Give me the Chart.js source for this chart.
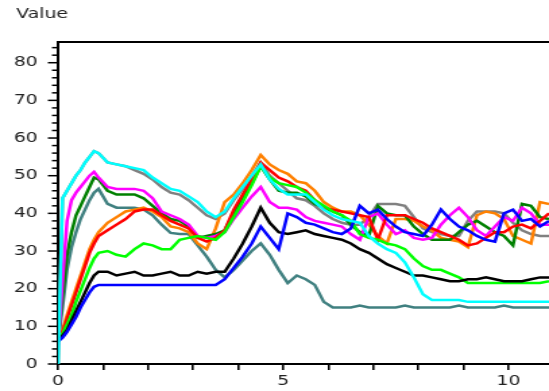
<!DOCTYPE html>
<html><head><meta charset="utf-8">
<script src="https://cdn.jsdelivr.net/npm/chart.js@4"></script>
<style>
html,body{margin:0;padding:0;background:#fff;overflow:hidden}
#wrap{position:absolute;left:0;top:0;width:407px;height:391px;transform:scaleX(1.3489);transform-origin:0 0;}
canvas{display:block}
</style></head><body>
<div id="wrap"><canvas id="c" width="407" height="391"></canvas></div>
<script>
const titleText = 'Value';
const xLabeled = [0, 5, 10];
const yLabeled = [0, 10, 20, 30, 40, 50, 60, 70, 80];
const xs = [0,0.1,0.2,0.3,0.4,0.5,0.6,0.7,0.8,0.9,1.1,1.3,1.5,1.7,1.9,2.1,2.3,2.5,2.7,2.9,3.1,3.3,3.5,3.7,3.9,4.1,4.3,4.5,4.7,4.9,5.1,5.3,5.5,5.7,5.9,6.1,6.3,6.5,6.7,6.9,7.1,7.3,7.5,7.7,7.9,8.1,8.3,8.5,8.7,8.9,9.1,9.3,9.5,9.7,9.9,10.1,10.3,10.5,10.7,10.9];

const blue = [6,7,8.5,10.5,12.5,15,17,19,20.5,21,
 21,21,21,21,21,21,21,21,21,21,
 21,21,21,22.5,25.5,28.5,32,36.5,33.5,30.5,
 40,39,37.5,37,36,35,34.5,36,42,40,
 41,38.5,36.5,35,34.5,34,37,41,38.5,36.5,
 35.5,34,33,32.5,40,41,38,38.5,36.5,38];
const black = [6,7.5,9,11.5,14,16.5,19,21.5,23.5,24.5,
 24.5,23.5,24,24.5,23.5,23.5,24,24.5,23.5,23.5,
 24.5,24,24.5,24.5,28,32,36.5,41.5,37.5,35,
 34.5,35,35.5,34.5,34,33.5,33,32,30.5,29.5,
 28,26.5,25.5,24.5,23.5,23.5,23,22.5,22,22,
 22.5,22.5,23,22.5,22,22,22,22.5,23,23];
const lime = [6,8,10.5,13,16.5,19.5,22.5,25.5,28,29.5,
 30,29,28.5,30.5,32,31.5,30.5,30.5,33,33.5,
 34,33.5,33,35,39,43,47.5,52.5,49.5,48,
 47.5,47,45.5,43.5,42,40.5,39.5,38,34.5,33.5,
 33,32,31.5,30.5,28,26,25,25,24,23,
 21.5,21.5,21.5,21.5,21.5,21.5,21.5,21.5,21.5,22];
const red = [6,8.5,12,15.5,19,22.5,26,29.5,32,34,
 35.5,37,38.5,40.5,41,41,39.5,38,37,36,
 33.5,32.5,33.5,35.5,41,45,49,53.5,51.5,49.5,
 48.5,47,46,43.5,41.5,41,40.5,40,39.5,39,
 33,39.5,39.5,39.5,38.5,37.5,36,35,34,33,
 31.5,32,33.5,35,35,36.5,37,36,38,40];
const orange = [6,9,13,16.5,20,23.5,27,30.5,33,35,
 37.5,39,40.5,41,41.5,40.5,39,36.5,36,35,
 32,30.5,36,43,45,48,51.5,55.5,53,51.5,
 50.5,48.5,48,46,43,41.5,40.5,40.5,39.5,37,
 34,32,38.5,38.5,38,36.5,35.5,33.5,33,32.5,
 31,39.5,40.5,40,38.5,34,33,32,43,42.5];
const magenta = [5,22,38,43.5,45.5,47,48.5,50,51,49.5,
 47,46.5,46.5,46.5,46,44,40.5,39.5,38.5,37,
 34,33.5,34,35,38.5,41.5,44.5,47,43,41.5,
 41.5,41,39,38,37.5,37,36.5,34.5,33,39,
 40,37,34.5,35.5,33.5,33,33.5,37,39.5,41.5,
 39,35.5,34,36.5,39,38,41.5,40,37,37];
const darkGreen = [6,18,29,35,39.5,42,44.5,47,49.5,49,
 46,45,45,45,44,42,40,38.5,38,36.5,
 33.5,34,34.5,35.5,40,44,48,52.5,49,46,
 45.5,45.5,44.5,42.5,41.5,40.5,39.5,37,35,34,
 42,40,39.5,39.5,36.5,34.5,33,33,33,35,
 37,38,36.5,35,34,31.5,42.5,42,39,38.5];
const teal = [6,15,25,31,35,38.5,41,43.5,45.5,46.5,
 42.5,41.5,41.5,41.5,41,39.5,37,34.8,34.5,34.5,
 31.5,28.5,25,23,25,27.5,30,32,29,25,
 21.5,23.5,22.5,21,16.5,15,15,15,15.5,15,
 15,15,15,15.5,15,15,15,15,15,15.5,
 15,15,15,15,15.5,15,15,15,15,15];
const cyan = [0,44,46,48,50,51.5,53.5,55,56.5,56,
 53.5,53,52.5,52,51.5,49.5,48,46.5,46,44.5,
 43,40.5,39,40.5,44,47,50,53,49,46.5,
 45,45,45,43,41,39.5,38.5,38,37.5,34,
 32,30.5,29.5,27,23,18.5,17,17,17,17,
 16.5,16.5,16.5,16.5,16.5,16.5,16.5,16.5,16.5,16.5];
const gray = [0,44,46,48,50,51.5,53.5,55,56.5,56,
 53.5,53,52.5,51.5,50.5,49,47,45.5,45,43.5,
 41.5,39.5,38.5,40,43.5,46.5,50,53.5,50,48,
 46,44,43.5,42,40,38.5,37.5,37,37,39,
 42.5,42.5,42.5,42,39,36,35,34.5,34,34,
 38,40.5,40.5,40.5,40,37.5,35.5,34.5,34,34];

const seriesList = [
  ['cyan', cyan, '#00ffff'],
  ['blue', blue, '#0000ff'],
  ['black', black, '#000000'],
  ['lime', lime, '#00ff00'],
  ['red', red, '#ff0000'],
  ['magenta', magenta, '#ff00ff'],
  ['darkGreen', darkGreen, '#008000'],
  ['orange', orange, '#ff8000'],
  ['teal', teal, '#408080'],
  ['gray', gray, '#808080']
];

const FONT = {family: '"DejaVu Sans", Verdana, sans-serif', size: 14};

const decor = {
  id: 'decor',
  afterDraw(chart) {
    const {ctx, chartArea, scales} = chart;
    const y = scales.y;
    ctx.save();
    ctx.strokeStyle = '#000';
    ctx.lineWidth = 1.5;
    for (let v = 0; v <= 84; v += 2) {
      const py = y.getPixelForValue(v);
      const len = yLabeled.includes(v) ? 7.5 : 4.5;
      ctx.beginPath();
      ctx.moveTo(chartArea.left - len, py);
      ctx.lineTo(chartArea.left, py);
      ctx.stroke();
    }
    ctx.lineWidth = 2;
    ctx.beginPath();
    ctx.moveTo(chartArea.left - 1, chartArea.top);
    ctx.lineTo(chartArea.right + 2, chartArea.top);
    ctx.stroke();
    ctx.fillStyle = '#222';
    ctx.font = '14px "DejaVu Sans"';
    ctx.textBaseline = 'alphabetic';
    ctx.textAlign = 'left';
    ctx.fillText(titleText, 12, 18);
    ctx.restore();
  }
};

new Chart(document.getElementById('c'), {
  type: 'line',
  data: {
    datasets: seriesList.map(([name, vals, col]) => ({
      label: name,
      data: xs.map((x, i) => ({x: x, y: vals[i]})),
      borderColor: col,
      backgroundColor: col,
      borderWidth: 2.5,
      pointRadius: 0,
      tension: 0,
      fill: false
    }))
  },
  options: {
    responsive: false,
    animation: false,
    devicePixelRatio: 1,
    layout: {padding: {top: 42, right: 0, bottom: 0, left: 0}},
    plugins: {legend: {display: false}, tooltip: {enabled: false}, title: {display: false}},
    scales: {
      x: {
        type: 'linear', min: 0, max: 10.9,
        afterFit: s => { s.height = 27; },
        ticks: {
          stepSize: 1, autoSkip: false, maxRotation: 0, includeBounds: false,
          callback: v => (xLabeled.includes(v) ? String(v) : ''),
          font: FONT, color: '#222', padding: 3
        },
        grid: {drawOnChartArea: false, color: '#000', tickLength: 6, tickWidth: 1.6, lineWidth: 1.6},
        border: {display: true, color: '#000', width: 2}
      },
      y: {
        type: 'linear', min: 0, max: 85.5,
        afterFit: s => { s.width = 43; },
        ticks: {
          stepSize: 2, autoSkip: false, includeBounds: false,
          callback: v => (yLabeled.includes(v) ? String(v) : ''),
          font: FONT, color: '#222', padding: 7
        },
        grid: {drawOnChartArea: false, color: 'rgba(0,0,0,0)', tickLength: 8},
        border: {display: true, color: '#000', width: 2}
      }
    }
  },
  plugins: [decor]
});
</script>
</body></html>
